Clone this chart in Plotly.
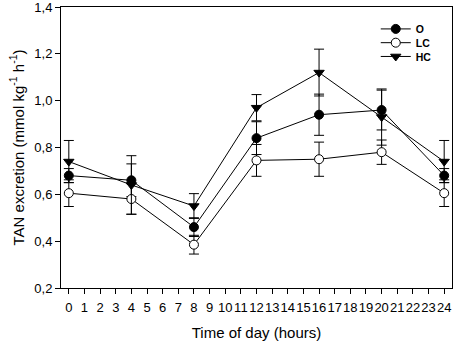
import plotly.graph_objects as go

hours = [0, 4, 8, 12, 16, 20, 24]
o_vals = [0.68, 0.66, 0.46, 0.84, 0.94, 0.96, 0.68]
o_err = [0.03, 0.07, 0.04, 0.07, 0.088, 0.085, 0.03]
lc_vals = [0.605, 0.58, 0.385, 0.745, 0.75, 0.78, 0.605]
lc_err = [0.057, 0.065, 0.04, 0.068, 0.073, 0.052, 0.057]
hc_vals = [0.74, 0.64, 0.55, 0.97, 1.12, 0.93, 0.74]
hc_err = [0.09, 0.125, 0.053, 0.056, 0.10, 0.12, 0.09]
x_ticks = list(range(0, 25))
y_ticks = [0.2, 0.4, 0.6, 0.8, 1.0, 1.2, 1.4]

fig = go.Figure()

def add(name, y, err, symbol, fill, legend):
    fig.add_trace(go.Scatter(
        x=hours, y=y, name=name, mode="lines+markers", legend=legend,
        line=dict(color="black", width=1),
        marker=dict(symbol=symbol, size=9, color=fill,
                    line=dict(color="black", width=1)),
        error_y=dict(type="data", array=err, visible=True,
                     color="black", thickness=1, width=5),
    ))

add("O", o_vals, o_err, "circle", "black", "legend")
add("LC", lc_vals, lc_err, "circle", "white", "legend2")
add("HC", hc_vals, hc_err, "triangle-down", "black", "legend3")

def leg(y):
    return dict(x=0.805, y=y, xanchor="left", yanchor="middle",
                bgcolor="rgba(0,0,0,0)", borderwidth=0,
                font=dict(size=10.5, weight="bold"), itemwidth=30)

fig.update_layout(
    width=454, height=341,
    margin=dict(l=61, r=2, t=7, b=53),
    plot_bgcolor="white", paper_bgcolor="white",
    separators=",.",
    font=dict(family="Liberation Sans, Arial", color="black", size=13),
    legend=leg(0.922), legend2=leg(0.873), legend3=leg(0.824),
    showlegend=True,
)
fig.update_xaxes(
    range=[-0.5, 24.5], tickvals=x_ticks,
    ticktext=[str(h) for h in x_ticks], tickangle=0,
    showline=True, linecolor="black", linewidth=1, mirror=True,
    ticks="outside", ticklen=5, tickcolor="black",
    showgrid=False, zeroline=False,
    title=dict(text="Time of day (hours)", font=dict(size=15), standoff=13),
    tickfont=dict(size=13), ticklabelstandoff=2,
    automargin=False, ticklabeloverflow="allow",
)
fig.update_yaxes(
    range=[0.2, 1.4], tickvals=y_ticks, tickformat=".1f",
    showline=True, linecolor="black", linewidth=1, mirror=True,
    ticks="outside", ticklen=5, tickcolor="black",
    showgrid=False, zeroline=False,
    title=dict(text="TAN excretion (mmol kg<sup>-1</sup> h<sup>-1</sup>)",
               font=dict(size=15), standoff=6),
    tickfont=dict(size=13),
    automargin=False, ticklabeloverflow="allow",
)

fig.write_html("out.html", config={"displayModeBar": False})
with open("out.html", "r", encoding="utf-8") as f:
    html = f.read()
html = html.replace("<head>", "<head><style>html,body{margin:0;padding:0;overflow:hidden}</style>", 1)
with open("out.html", "w", encoding="utf-8") as f:
    f.write(html)
